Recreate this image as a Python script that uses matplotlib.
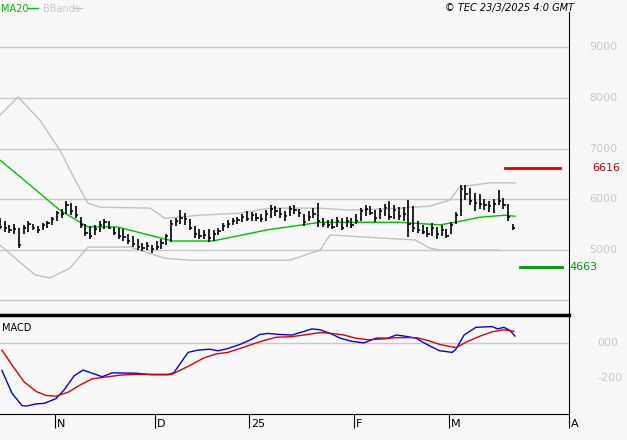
import matplotlib.pyplot as plt

# daily bars (index = trading day from mid Oct)
high = [5620,5560,5480,5500,5420,5480,5560,5500,5460,5520,5560,5640,5760,5800,5960,5920,5860,5640,5500,5460,
        5480,5560,5600,5560,5440,5420,5400,5300,5260,5200,5140,5160,5100,5180,5200,5300,5580,5620,5780,5720,
        5600,5460,5400,5380,5400,5380,5420,5520,5580,5620,5640,5700,5760,5740,5720,5700,5780,5880,5860,5820,
        5760,5860,5880,5800,5700,5760,5820,5920,5620,5580,5600,5640,5620,5640,5620,5700,5820,5880,5860,5780,
        5820,5900,5960,5880,5840,5840,5980,5860,5560,5480,5440,5520,5440,5480,5400,5540,5740,6280,6280,6220,
        6120,6100,6000,5960,6000,6180,6020,5900,5500]
low = [5400,5350,5330,5300,5030,5300,5350,5380,5330,5380,5430,5480,5560,5620,5700,5680,5620,5420,5260,5200,
       5280,5340,5400,5400,5280,5200,5180,5120,5060,5000,4980,5000,4940,5000,5020,5100,5160,5460,5500,5480,
       5380,5220,5200,5200,5160,5180,5280,5360,5420,5480,5500,5540,5560,5560,5560,5540,5560,5620,5660,5620,
       5560,5660,5700,5640,5460,5560,5620,5440,5440,5420,5400,5440,5380,5440,5420,5500,5560,5660,5680,5540,
       5600,5660,5580,5600,5580,5560,5240,5340,5320,5300,5240,5260,5200,5260,5220,5300,5500,5660,5980,5880,
       5760,5800,5780,5740,5720,5880,5800,5560,5380]
close = [5450,5420,5380,5400,5100,5420,5500,5420,5380,5480,5520,5600,5720,5700,5880,5760,5680,5480,5320,5260,
         5400,5480,5540,5420,5320,5260,5240,5180,5120,5060,5040,5080,5020,5060,5140,5260,5500,5560,5620,5600,
         5420,5300,5260,5280,5220,5300,5360,5460,5500,5560,5580,5640,5600,5680,5620,5600,5700,5800,5760,5700,
         5660,5800,5780,5720,5540,5640,5700,5560,5500,5480,5440,5560,5420,5560,5480,5560,5760,5800,5720,5620,
         5760,5820,5640,5780,5660,5700,5500,5420,5380,5340,5300,5420,5300,5380,5260,5480,5680,6200,6100,5960,
         5920,5900,5880,5860,5900,5960,5880,5640,5420]

ma_x = [0,6.3,12.6,18.5,24.6,36.4,44.8,56.2,67.4,84.2,92.6,95.8,101,106.3,108.4]
ma_y = [6770,6280,5780,5450,5450,5170,5170,5390,5540,5540,5490,5540,5640,5680,5660]
up_x = [0,3.8,8.4,12.6,15.8,18.5,21,31.6,34.7,42,50.5,56.8,67.4,73.7,84.2,90.5,94.7,96.8,103,108.4]
up_y = [7660,8020,7560,6970,6380,5920,5840,5820,5620,5680,5720,5820,5820,5780,5820,5860,5980,6240,6320,6320]
lo_x = [0,4.2,7.4,10.5,14.7,18.5,27.4,34.7,40,61,67.4,69.5,80,87.4,90.5,92.6,105]
lo_y = [5090,4750,4500,4440,4630,5050,5050,4830,4790,4790,4990,5290,5230,5190,5030,4990,4990]

macd_x = [0.4,2.5,4.6,5.5,7.6,9.3,11.8,13.5,15.6,17.5,19.4,21.5,23.6,28.6,32,35.4,36.6,39.6,41.7,44.2,45.9,48,
          50.5,53,54.7,56.4,58.9,61.5,65.7,67.4,69.9,71.6,74.1,76.6,79.2,81.7,83.4,85.1,87.6,89.3,90.9,92.6,95.2,
          96,97.7,100.2,103.6,104.8,106.1,107.4,108.4]
macd_v = [-157,-286,-357,-361,-348,-345,-318,-268,-188,-155,-173,-193,-171,-173,-182,-182,-170,-54,-41,-36,-45,-32,
          -9,21,48,54,48,45,80,75,50,27,9,0,27,27,45,39,27,0,-23,-45,-54,-36,45,89,93,80,89,71,39]
sig_x = [0.4,2.5,5.1,7.6,9.7,11.8,14.3,16.8,19.4,21.9,25.3,28.6,32,36.2,39.6,42.9,45.5,48,50.5,53,55.6,58.1,61.5,
         64.8,67.4,69.9,72.4,74.9,77.5,80.8,83.4,87.6,90.1,92.6,96,98.5,101.1,103.6,106.1,108.2]
sig_v = [-41,-125,-223,-277,-300,-304,-282,-241,-205,-196,-184,-179,-179,-179,-134,-86,-63,-54,-32,-9,14,32,36,48,
         59,54,45,27,18,23,30,30,14,-9,-27,9,39,63,75,66]

month_pos = [11.6, 32.6, 52.4, 74.5, 94.5, 119.8]
month_lab = ['N', 'D', '25', 'F', 'M', 'A']
res_level, sup_level = 6616, 4663

bg = '#f8f8f8'
grid = '#c8c8c8'
fig = plt.figure(figsize=(6.27, 4.40), dpi=100, facecolor=bg)
ax = fig.add_axes([0, 0.286, 0.9075, 0.687], facecolor=bg)
ax2 = fig.add_axes([0, 0.059, 0.9075, 0.223], facecolor=bg, sharex=ax)
xmax = 119.8
for a in (ax, ax2):
    a.set_xlim(0, xmax)
    for s in ('top', 'left', 'bottom'):
        a.spines[s].set_visible(False)
    a.spines['right'].set_color('black')
    a.set_yticks([])
    a.tick_params(axis='x', length=0, labelbottom=False)

ax.set_ylim(3723, 9703)
for lv in range(4000, 10000, 1000):
    ax.axhline(lv, color=grid, lw=1, zorder=0)
    if lv > 4000:
        ax.text(1.035, lv, f'{lv}', transform=ax.get_yaxis_transform(), color=grid,
                fontsize=8, va='center', ha='left', clip_on=False)

ax.plot(up_x, up_y, color='#c0c0c0', lw=1)
ax.plot(lo_x, lo_y, color='#c0c0c0', lw=1)
ax.plot(ma_x, ma_y, color='#00c000', lw=1)
for i in range(len(close)):
    ax.vlines(i, low[i], high[i], color='black', lw=1.2)
    ax.hlines(close[i], i, i + 0.45, color='black', lw=1.2)

ax.plot([106.3, 118], [res_level, res_level], color='#dd0000', lw=2)
ax.plot([109.5, 118.3], [sup_level, sup_level], color='#009900', lw=2)
ax.text(1.04, res_level, str(res_level), transform=ax.get_yaxis_transform(), color='#cc0000',
        fontsize=8, va='center', clip_on=False)
ax.text(1.0, sup_level, str(sup_level), transform=ax.get_yaxis_transform(), color='#009900',
        fontsize=8, va='center', clip_on=False)

fig.text(0.002, 0.99, 'MA20', color='#00c000', fontsize=7, va='top')
fig.add_artist(plt.Line2D([0.045, 0.06], [0.982, 0.982], color='#00c000', lw=1))
fig.text(0.068, 0.99, 'BBands', color='#c8c8c8', fontsize=7, va='top')
fig.add_artist(plt.Line2D([0.117, 0.13], [0.982, 0.982], color='#c8c8c8', lw=1))
fig.text(0.915, 0.993, '© TEC 23/3/2025 4:0 GMT', fontsize=7, style='italic', ha='right', va='top')

fig.add_artist(plt.Line2D([0, 0.9075], [0.284, 0.284], color='black', lw=2.5))

ax2.set_ylim(-406, 154)
ax2.axhline(0, color=grid, lw=1, zorder=0)
ax2.plot(macd_x, macd_v, color='#0000ee', lw=1)
ax2.plot(sig_x, sig_v, color='#dd0000', lw=1)
ax2.text(0.003, 0.93, 'MACD', transform=ax2.transAxes, fontsize=7, va='top')
for lv, lab in [(0, '000'), (-200, '-200')]:
    ax2.text(1.05, lv, lab, transform=ax2.get_yaxis_transform(), color=grid, fontsize=8,
             va='center', ha='left', clip_on=False)
ax2.spines['bottom'].set_visible(True)
ax2.spines['bottom'].set_color('black')
ax2.set_xticks(month_pos)
ax2.tick_params(axis='x', length=10, direction='out', color='black', labelbottom=False)
for p, lab in zip(month_pos, month_lab):
    ax2.text(p + 0.4, -0.05, lab, transform=ax2.get_xaxis_transform(), fontsize=8, va='top', ha='left')

fig.savefig('out.png', dpi=100, facecolor=bg)
